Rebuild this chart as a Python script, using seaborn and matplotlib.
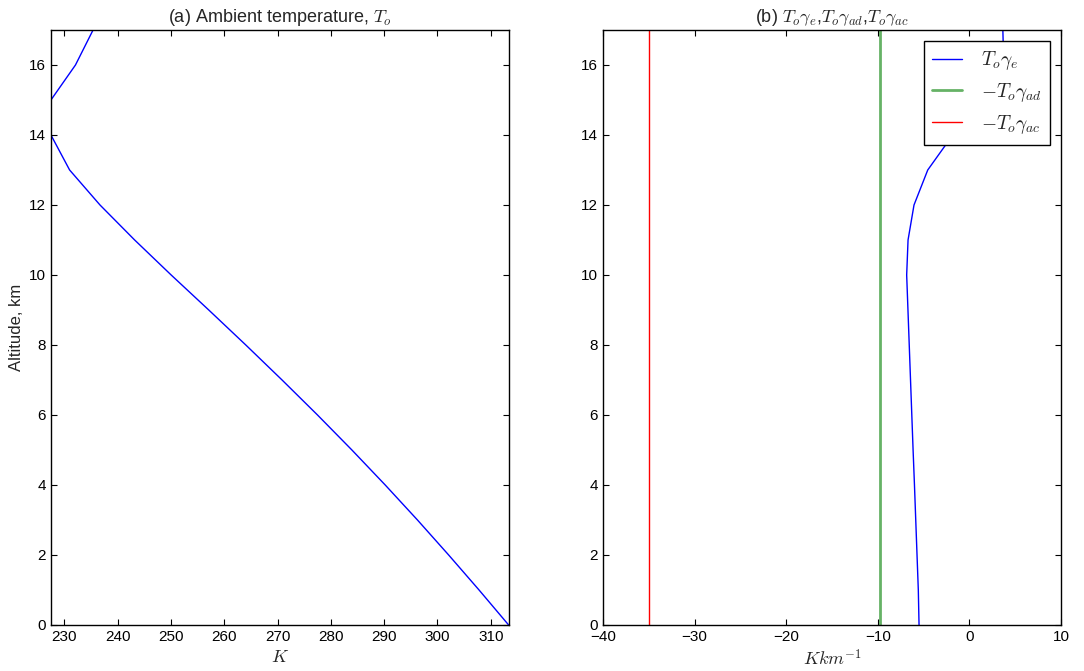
import numpy as np
import pandas as pd
import matplotlib
matplotlib.use("Agg")
import matplotlib.pyplot as plt
import seaborn as sns

# ---- data ----
altitude_km = [0, 1, 2, 3, 4, 5, 6, 7, 8, 9, 10, 11, 12, 13, 14, 15, 16, 17]
ambient_T = [313.35, 307.8, 302.1, 296.25, 290.2, 283.95, 277.5, 270.85, 264.05,
             257.1, 250.05, 243.2, 236.7, 231.0, 227.5, 227.5, 232.1, 235.4]
To_gamma_e = [-5.50, -5.58, -5.72, -5.86, -6.00, -6.15, -6.29, -6.43, -6.57,
              -6.71, -6.85, -6.70, -6.05, -4.55, -1.82, 2.30, 3.75, 3.65]
To_gamma_ad = -9.8
To_gamma_ac = -35.0

sns.set_style("ticks")
plt.rcParams["font.family"] = ["Liberation Sans", "DejaVu Sans"]
plt.rcParams["mathtext.fontset"] = "cm"
plt.rcParams["axes.linewidth"] = 1.0
plt.rcParams["axes.edgecolor"] = "black"
plt.rcParams["xtick.direction"] = "in"
plt.rcParams["ytick.direction"] = "in"
plt.rcParams["xtick.top"] = True
plt.rcParams["ytick.right"] = True
plt.rcParams["xtick.major.size"] = 4
plt.rcParams["ytick.major.size"] = 4
plt.rcParams["xtick.color"] = "black"
plt.rcParams["ytick.color"] = "black"

df = pd.DataFrame({"z": altitude_km, "T": ambient_T, "ge": To_gamma_e})
df["gad"] = To_gamma_ad
df["gac"] = To_gamma_ac

fig = plt.figure(figsize=(10.84, 6.71), dpi=100)
ax1 = fig.add_axes([0.047, 0.0686, 0.4222, 0.8867])
ax2 = fig.add_axes([0.5563, 0.0686, 0.4225, 0.8867])

sns.lineplot(data=df, x="T", y="z", sort=False, estimator=None, color="b",
             lw=1.0, ax=ax1)
ax1.set_xlim(min(ambient_T), max(ambient_T))
ax1.set_ylim(0, 17)
ax1.set_xticks([230, 240, 250, 260, 270, 280, 290, 300, 310])
ax1.set_title("(a) Ambient temperature, $T_o$", fontsize=13)
ax1.set_xlabel("$K$", fontsize=13)
ax1.set_ylabel("Altitude, km", fontsize=12)

sns.lineplot(data=df, x="ge", y="z", sort=False, estimator=None, color="b",
             lw=1.0, ax=ax2, label=r"$T_o\gamma_e$")
sns.lineplot(data=df, x="gad", y="z", sort=False, estimator=None, color="g",
             lw=2.0, alpha=0.6, ax=ax2, label=r"$-T_o\gamma_{ad}$")
sns.lineplot(data=df, x="gac", y="z", sort=False, estimator=None, color="r",
             lw=1.0, ax=ax2, label=r"$-T_o\gamma_{ac}$")
ax2.set_xlim(-40, 10)
ax2.set_ylim(0, 17)
ax2.set_title(r"(b) $T_o\gamma_e$,$T_o\gamma_{ad}$,$T_o\gamma_{ac}$", fontsize=13)
ax2.set_xlabel(r"$Kkm^{-1}$", fontsize=13)
ax2.set_ylabel("")
leg = ax2.legend(loc="upper right", fontsize=14, frameon=True, fancybox=False,
                 edgecolor="black", framealpha=1.0, borderaxespad=0.55,
                 handlelength=1.5, handletextpad=1.0, labelspacing=0.45,
                 borderpad=0.45)
leg.get_frame().set_linewidth(1.0)

for ax in (ax1, ax2):
    ax.tick_params(labelsize=11, width=0.8)
    for s in ax.spines.values():
        s.set_visible(True)

fig.savefig("out.png", dpi=100, facecolor="white")
